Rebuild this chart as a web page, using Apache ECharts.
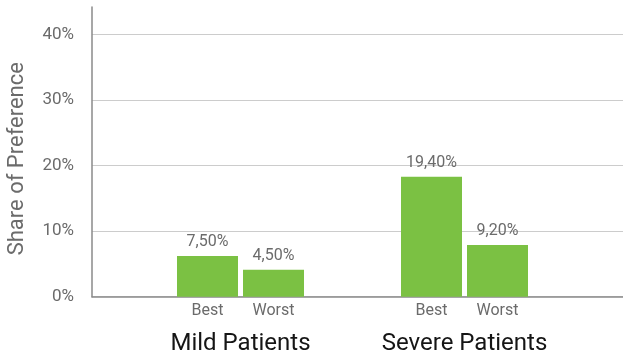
<!DOCTYPE html>
<html>
<head>
<meta charset="utf-8">
<script src="https://cdn.jsdelivr.net/npm/echarts@6/dist/echarts.min.js"></script>
<style>
html,body{margin:0;padding:0;background:#fff;}
#chart{width:623px;height:353px;}
</style>
</head>
<body>
<div id="chart"></div>
<script>
// Data
const categories = ['Mild Patients', 'Severe Patients'];
const seriesNames = ['Best', 'Worst'];
const bestValues = [6.2, 18.3];
const worstValues = [4.1, 7.9];
const bestLabels = ['7,50%', '19,40%'];
const worstLabels = ['4,50%', '9,20%'];
const yMin = 0, yMax = 40, yStep = 10;
const yAxisTitle = 'Share of Preference';

const FONT = 'Roboto';
const GREY = '#6b6b6b';
const GREEN = '#7bc143';

const chart = echarts.init(document.getElementById('chart'), null, {renderer: 'canvas'});

const plotTop = 34.7, plotBottom = 56.3;

const option = {
  animation: false,
  backgroundColor: '#fff',
  grid: [
    {left: 92, right: 0, top: plotTop, bottom: plotBottom, outerBoundsMode: 'none', containLabel: false},
    {left: 92, width: 1, top: 7, bottom: plotBottom, outerBoundsMode: 'none', containLabel: false},
    {left: 128.5, right: 46.5, top: plotTop, bottom: plotBottom, outerBoundsMode: 'none', containLabel: false}
  ],
  xAxis: [
    {gridIndex: 0, type: 'category', data: [''],
      axisLine: {show: true, lineStyle: {color: '#8a8a8a', width: 1.5}},
      axisTick: {show: false}, axisLabel: {show: false}, splitLine: {show: false}},
    {gridIndex: 1, type: 'category', data: [''], show: false},
    {gridIndex: 2, type: 'category', data: categories,
      axisLine: {show: false}, axisTick: {show: false}, splitLine: {show: false},
      axisLabel: {
        margin: 5,
        interval: 0,
        formatter: function (v) {
          return '{a|' + seriesNames[0] + '}{g|}{b|' + seriesNames[1] + '}\n{c|' + v + '}';
        },
        rich: {
          a: {width: 61, align: 'center', fontFamily: FONT, fontSize: 16, color: GREY, lineHeight: 19},
          g: {width: 5},
          b: {width: 61, align: 'center', fontFamily: FONT, fontSize: 16, color: GREY, lineHeight: 19},
          c: {fontFamily: FONT, fontSize: 24, color: '#151515', lineHeight: 46, align: 'center'}
        }
      }}
  ],
  yAxis: [
    {gridIndex: 0, type: 'value', min: yMin, max: yMax, interval: yStep,
      name: yAxisTitle, nameLocation: 'middle', nameGap: 64, nameRotate: 90,
      nameTextStyle: {fontFamily: FONT, fontSize: 22, color: GREY, padding: [0, 0, 0, 14]},
      axisLine: {show: false}, axisTick: {show: false},
      axisLabel: {formatter: '{value}%', fontFamily: FONT, fontSize: 17, color: GREY, margin: 18},
      splitLine: {show: true, lineStyle: {color: '#cccccc', width: 1.2}}},
    {gridIndex: 1, type: 'value', min: 0, max: 1,
      axisLine: {show: true, lineStyle: {color: '#8a8a8a', width: 1.5}},
      axisTick: {show: false}, axisLabel: {show: false}, splitLine: {show: false}},
    {gridIndex: 2, type: 'value', min: yMin, max: yMax, interval: yStep, show: false,
      splitLine: {show: false}}
  ],
  series: [
    {name: seriesNames[0], type: 'bar', xAxisIndex: 2, yAxisIndex: 2,
      data: bestValues, barWidth: 61, barGap: '8.2%',
      itemStyle: {color: GREEN},
      label: {show: true, position: 'top', distance: 6, fontFamily: FONT, fontSize: 16, color: GREY,
        formatter: p => bestLabels[p.dataIndex]}},
    {name: seriesNames[1], type: 'bar', xAxisIndex: 2, yAxisIndex: 2,
      data: worstValues, barWidth: 61, barGap: '8.2%',
      itemStyle: {color: GREEN},
      label: {show: true, position: 'top', distance: 6, fontFamily: FONT, fontSize: 16, color: GREY,
        formatter: p => worstLabels[p.dataIndex]}}
  ]
};
chart.setOption(option);
</script>
</body>
</html>
